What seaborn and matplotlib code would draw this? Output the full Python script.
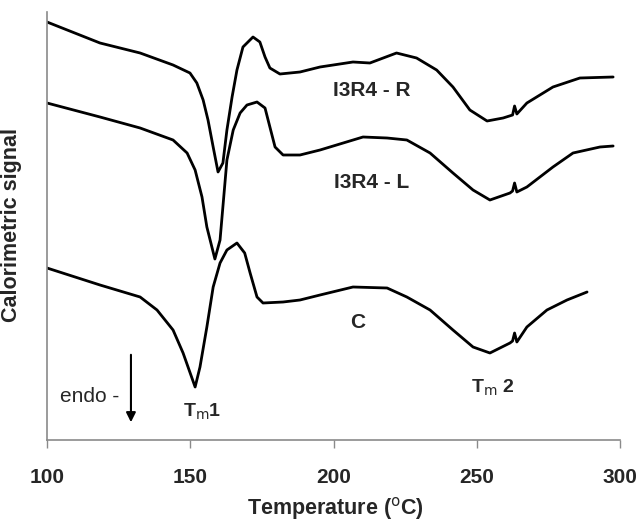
import matplotlib
matplotlib.use("Agg")
import matplotlib.pyplot as plt
import seaborn as sns
import pandas as pd

# Temperature (°C) and calorimetric signal (arbitrary units)
temp_R = [100, 118.5, 132.5, 144, 149.9, 152.3, 154.5, 156.2, 158, 159.7, 161.4, 162.8, 164.6,
          166.3, 168.4, 171.9, 174.3, 176.1, 177.8, 181.3, 188.3, 195.3, 206.8, 212.7, 222,
          229, 236, 241.7, 247.6, 253.6, 259.2, 262.5, 263.2, 264, 267.5, 276.6, 286, 297.6]
sig_R = [418, 397, 387, 375, 367, 357, 340, 320, 293, 268, 277, 310, 343,
         370, 393, 403, 398, 383, 372, 366, 368, 373, 378, 377, 387,
         382, 370, 353, 330, 319, 322, 325, 334, 326, 337, 353, 362, 363]

temp_L = [100, 118.5, 132.5, 144, 148.9, 151.7, 154.1, 155.8, 158.6, 160.4, 161, 162.8, 165,
          167.4, 169.8, 173.3, 176.1, 177.8, 179.6, 182.4, 188.3, 195.3, 210.3, 218.7, 225.6,
          233.7, 241.7, 248.7, 254.6, 261.6, 262.5, 263.2, 264, 267.5, 276.6, 283.6, 293, 297.6]
sig_L = [337, 323, 312, 300, 287, 270, 243, 213, 181, 200, 220, 280, 310,
         327, 335, 338, 332, 313, 293, 285, 285, 290, 303, 302, 300,
         287, 267, 250, 240, 247, 249, 257, 248, 253, 273, 287, 293, 294]

temp_C = [100, 118.5, 132.5, 138.4, 144, 147.5, 151.7, 153.4, 155.8, 158, 160.4, 162.8, 166.3,
          169, 170.9, 173.3, 175.4, 182.4, 188.3, 195.3, 206.8, 218.7, 225.6, 233.7, 241.7,
          248.7, 254.6, 261.6, 262.5, 263.2, 264, 267.5, 274.5, 281.5, 288.5]
sig_C = [172, 155, 143, 130, 110, 87, 53, 73, 113, 153, 177, 190, 197,
         187, 167, 143, 137, 138, 140, 145, 153, 152, 143, 130, 110,
         93, 87, 97, 99, 107, 98, 113, 130, 140, 148]

x_ticks = [100, 150, 200, 250, 300]

sns.set_theme(style="white")
plt.rcParams['font.family'] = ['Liberation Sans', 'DejaVu Sans']

fig = plt.figure(figsize=(6.39, 5.24), dpi=100)
ax = fig.add_axes([47/639, 1-440/524, 573/639, 428/524])

for t, s in [(temp_R, sig_R), (temp_L, sig_L), (temp_C, sig_C)]:
    df = pd.DataFrame({"T": t, "S": s})
    sns.lineplot(data=df, x="T", y="S", ax=ax, color="black", linewidth=2.0,
                 sort=False, estimator=None)

ax.set_xlim(100, 300)
ax.set_ylim(0, 428)
ax.set_xticks(x_ticks)
ax.set_xticklabels([str(v) for v in x_ticks], fontsize=15, fontweight="bold")
ax.set_yticks([])

for sp in ["top", "right"]:
    ax.spines[sp].set_visible(False)
for sp in ["left", "bottom"]:
    ax.spines[sp].set_color("#8a8a8a")
    ax.spines[sp].set_linewidth(1.2)
ax.tick_params(axis="x", direction="out", length=6, width=1, color="#8a8a8a", pad=14, bottom=True)

ax.set_xlabel("Temperature ($^{\\rm o}$C)", fontsize=15.5, fontweight="bold")
ax.set_ylabel("Calorimetric signal", fontsize=15.5, fontweight="bold")
ax.xaxis.set_label_coords(0.503, -0.128)
ax.yaxis.set_label_coords(-0.044, 0.502)

ax.text(213.4, 350, "I3R4 - R", fontsize=15, fontweight="bold", ha="center", va="center")
ax.text(213.4, 258, "I3R4 - L", fontsize=15, fontweight="bold", ha="center", va="center")
ax.text(208.5, 117, "C", fontsize=15, fontweight="bold", ha="center", va="center")
ax.text(255.7, 52, "T$_{\\rm m}$ 2", fontsize=14, fontweight="bold", ha="center", va="center")
ax.text(154, 28, "T$_{\\rm m}$1", fontsize=14, fontweight="bold", ha="center", va="center")
ax.text(115, 43, "endo -", fontsize=15, ha="center", va="center")
ax.annotate("", xy=(129.3, 15), xytext=(129.3, 88),
            arrowprops=dict(arrowstyle="-|>", color="black", lw=1.5, mutation_scale=14))

fig.savefig("out.png", dpi=100)
